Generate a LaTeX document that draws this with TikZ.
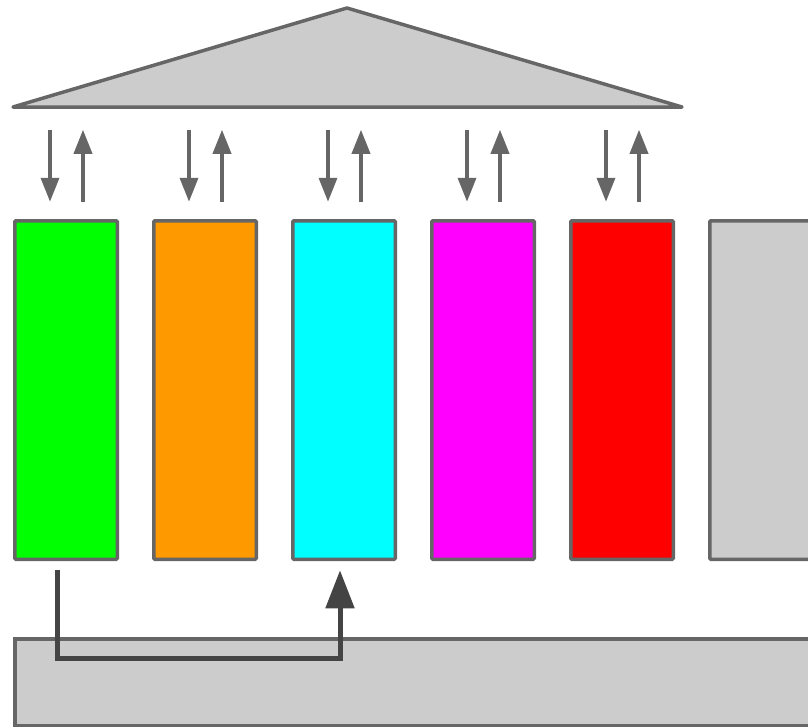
\documentclass[tikz,border=0pt]{standalone}
\usetikzlibrary{arrows.meta,calc}

\definecolor{edge}{HTML}{666666}
\definecolor{shade}{HTML}{CCCCCC}
\definecolor{route}{HTML}{444444}

\begin{document}
\begin{tikzpicture}[
	x=1pt,y=-1pt,
	pillar/.style={draw=edge,line width=3.5pt,rounded corners=1pt,minimum width=102.5pt,minimum height=338.5pt,inner sep=0pt,outer sep=0pt},
	link/.style={draw=edge,line width=3.5pt,-{Triangle[width=18pt,length=24pt]}},
	flow/.style={draw=route,line width=5pt,-{Triangle[width=28pt,length=38pt]}}
]
\useasboundingbox (0,0) rectangle (808,726);
% roof
\coordinate (roofL) at (13,107);
\coordinate (roofT) at (347,8);
\coordinate (roofR) at (682,107);
\draw[edge,fill=shade,line width=3.5pt,line join=round] (roofL) -- (roofT) -- (roofR) -- cycle;
% base
\node[draw=edge,fill=shade,line width=3.5pt,minimum width=820pt,minimum height=87pt,inner sep=0pt,anchor=north west] (base) at (13,637) {};
% pillars
\foreach \name/\col [count=\i from 0] in {green/00FF00,orange/FF9900,cyan/00FFFF,magenta/FF00FF,red/FF0000,grey/CCCCCC}{
	\definecolor{tmp}{HTML}{\col}
	\node[pillar,fill=tmp] (\name) at (66+139*\i,390) {};
}
\foreach \name in {green,orange,cyan,magenta,red}{
	\draw[link] ([xshift=-16pt,yshift=91pt]\name.north) -- ([xshift=-16pt,yshift=19pt]\name.north);
	\draw[link] ([xshift=17pt,yshift=19pt]\name.north) -- ([xshift=17pt,yshift=91pt]\name.north);
}
% transfer through the base
\draw[flow] ([xshift=-9pt,yshift=-11pt]green.south) -- ++(0,88) -| ([xshift=-4pt,yshift=-11pt]cyan.south);
\end{tikzpicture}
\end{document}
